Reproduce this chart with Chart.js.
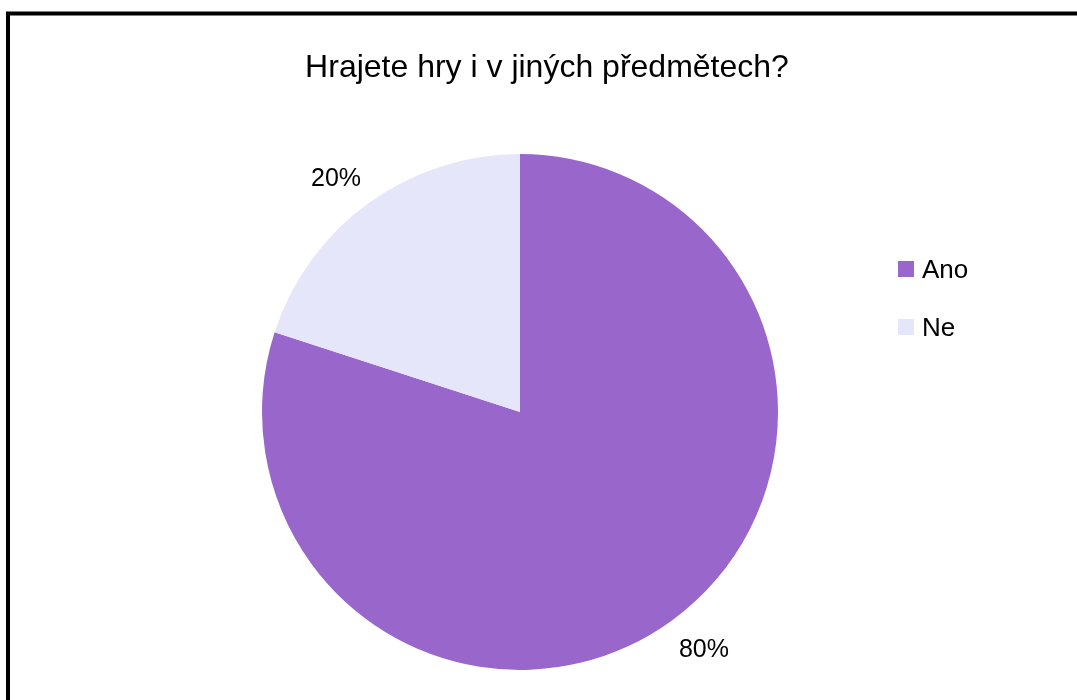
<!DOCTYPE html>
<html>
<head>
<meta charset="utf-8">
<script src="https://cdn.jsdelivr.net/npm/chart.js@4/dist/chart.umd.min.js"></script>
<style>
  html, body { margin: 0; padding: 0; background: #fff; }
  #wrap { width: 1077px; height: 700px; position: relative; }
</style>
</head>
<body>
<div id="wrap"><canvas id="c" width="1077" height="700"></canvas></div>
<script>
const chartTitle = 'Hrajete hry i v jiných předmětech?';
const categories = ['Ano', 'Ne'];
const shares = [80, 20];
const sliceColors = ['#9966CC', '#E6E6FA'];
const FONT = '"Liberation Sans", Arial, sans-serif';

// Frame, title, custom legend and outside percentage labels
const decorations = {
  id: 'decorations',
  beforeDraw(chart) {
    const ctx = chart.ctx;
    ctx.save();
    ctx.fillStyle = '#fff';
    ctx.fillRect(0, 0, chart.width, chart.height);
    ctx.strokeStyle = '#000';
    ctx.lineWidth = 4;
    ctx.strokeRect(8, 13.5, 3000, 3000);
    ctx.restore();
  },
  afterDraw(chart) {
    const ctx = chart.ctx;
    ctx.save();
    ctx.fillStyle = '#000';
    ctx.textBaseline = 'alphabetic';

    // title
    ctx.font = '32px ' + FONT;
    ctx.textAlign = 'center';
    ctx.fillText(chartTitle, 547, 77);

    // legend
    ctx.font = '26px ' + FONT;
    ctx.textAlign = 'left';
    categories.forEach((name, i) => {
      const y = 261 + i * 58;
      ctx.fillStyle = sliceColors[i];
      ctx.fillRect(898, y, 16, 16);
      ctx.fillStyle = '#000';
      ctx.fillText(name, 922, y + 17);
    });

    // percentage labels outside the slices
    const meta = chart.getDatasetMeta(0);
    const total = shares.reduce((a, b) => a + b, 0);
    ctx.font = '25px ' + FONT;
    ctx.textAlign = 'center';
    ctx.textBaseline = 'middle';
    meta.data.forEach((arc, i) => {
      const p = arc.getProps(['x', 'y', 'startAngle', 'endAngle', 'outerRadius'], true);
      const mid = (p.startAngle + p.endAngle) / 2;
      const c = Math.cos(mid), s = Math.sin(mid);
      const txt = Math.round(shares[i] / total * 100) + '%';
      const w = ctx.measureText(txt).width;
      const r = p.outerRadius + 24;
      const x = p.x + c * (r + w / 2 + 6);
      const y = p.y + s * r + s * 9.5 + 2.5;
      ctx.fillText(txt, x, y);
    });
    ctx.restore();
  }
};

new Chart(document.getElementById('c'), {
  type: 'pie',
  data: {
    labels: categories,
    datasets: [{
      data: shares,
      backgroundColor: sliceColors,
      borderWidth: 0
    }]
  },
  options: {
    responsive: false,
    animation: false,
    layout: { padding: { top: 154, bottom: 30, left: 262, right: 299 } },
    plugins: {
      legend: { display: false },
      title: { display: false },
      tooltip: { enabled: false }
    }
  },
  plugins: [decorations]
});
</script>
</body>
</html>
